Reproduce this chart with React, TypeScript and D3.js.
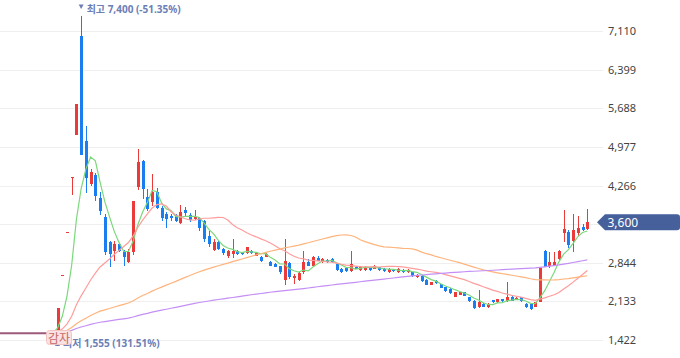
import React from 'react';
import * as d3 from 'd3';

// Daily candles (KRW), oldest to newest
const opens = [
  1580, 2627, 3415, 4415, 5213, 7018, 5102, 4310, 4476, 4047,
  3702, 3229, 3076, 3200, 3076, 2861, 3045, 4255, 4734, 4071,
  3979, 4163, 3869, 3758, 3721, 3739, 3592, 3831, 3739, 3665,
  3684, 3627, 3353, 3089, 3229, 3107, 2984, 3021, 3076, 3045,
  3033, 3076, 2984, 2966, 2966, 2861, 2831, 2789, 2536, 2842,
  2573, 2536, 2676, 2861, 2800, 2941, 2861, 2904, 2922, 2831,
  2739, 2757, 2695, 2781, 2720, 2720, 2769, 2739, 2769, 2739,
  2676, 2720, 2676, 2720, 2676, 2676, 2584, 2615, 2536, 2450,
  2523, 2462, 2400, 2370, 2229, 2265, 2308, 2216, 2155, 2045,
  2094, 2032, 2167, 2124, 2186, 2155, 2229, 2167, 2216, 2094,
  2094, 2045, 2124, 3063, 2800, 2800, 2923, 3407, 3426, 3247,
  3395, 3518, 3475,
];
const highs = [
  2021, 2627, 3415, 4439, 5770, 7400, 5379, 4586, 4500, 4150,
  3758, 3250, 3260, 3220, 3090, 3100, 3984, 4955, 4750, 4213,
  4494, 4237, 3890, 3780, 3758, 3758, 3923, 3880, 3770, 3830,
  3700, 3640, 3445, 3297, 3250, 3120, 3080, 3297, 3090, 3060,
  3150, 3090, 3040, 2980, 3030, 2880, 2850, 2800, 3292, 2870,
  2647, 2680, 3076, 2929, 2970, 2984, 2935, 2920, 2935, 2840,
  2750, 2770, 3076, 2800, 2790, 2790, 2780, 2810, 2780, 2750,
  2750, 2730, 2750, 2730, 2730, 2690, 2650, 2625, 2545, 2500,
  2535, 2470, 2410, 2380, 2320, 2320, 2318, 2225, 2165, 2352,
  2105, 2105, 2175, 2195, 2195, 2492, 2240, 2215, 2225, 2105,
  2100, 2135, 2760, 3093, 3058, 3045, 3090, 3831, 3450, 3752,
  3721, 3568, 3845,
];
const lows = [
  1555, 2627, 3415, 4100, 5213, 4844, 4144, 4273, 3997, 3739,
  3000, 2768, 2890, 3050, 2800, 2840, 3000, 4200, 4034, 3813,
  3900, 3850, 3620, 3500, 3630, 3600, 3570, 3700, 3600, 3640,
  3440, 3242, 3137, 3076, 3090, 3000, 2941, 2947, 3000, 3000,
  3020, 3010, 2970, 2870, 2950, 2790, 2770, 2650, 2450, 2560,
  2462, 2520, 2647, 2790, 2790, 2880, 2850, 2850, 2850, 2700,
  2670, 2690, 2676, 2730, 2710, 2710, 2710, 2730, 2710, 2680,
  2665, 2680, 2665, 2665, 2665, 2600, 2575, 2505, 2440, 2440,
  2465, 2380, 2315, 2280, 2220, 2255, 2240, 2130, 2000, 2020,
  2035, 2020, 2115, 2115, 2135, 2124, 2145, 2160, 2135, 2025,
  1990, 2035, 2124, 2770, 2763, 2790, 2900, 3229, 3132, 3045,
  3353, 3440, 3460,
];
const closes = [
  2021, 2627, 3415, 4439, 5770, 4844, 4420, 4531, 4089, 3800,
  3050, 3015, 3200, 3076, 2966, 3045, 3984, 4715, 4218, 3839,
  4163, 3869, 3684, 3665, 3684, 3627, 3795, 3776, 3647, 3702,
  3500, 3292, 3200, 3229, 3107, 3027, 3063, 3076, 3015, 3015,
  3137, 3027, 3027, 2892, 3015, 2800, 2782, 2676, 2879, 2585,
  2610, 2658, 2861, 2800, 2953, 2892, 2922, 2861, 2861, 2720,
  2689, 2708, 2831, 2739, 2781, 2781, 2720, 2800, 2720, 2695,
  2739, 2695, 2739, 2676, 2720, 2615, 2634, 2523, 2450, 2492,
  2474, 2389, 2326, 2290, 2308, 2308, 2247, 2142, 2020, 2124,
  2045, 2094, 2124, 2186, 2142, 2216, 2155, 2204, 2142, 2032,
  2001, 2124, 2760, 2781, 2873, 2861, 3076, 3469, 3187, 3457,
  3487, 3457, 3600,
];

// Price before re-listing (flat line at the left)
const basePrice = 1555;
const maPeriods = [5, 20, 60, 120];
const maColors = ['#7bd87b', '#ff9c9c', '#ffb47c', '#c48ff5'];
const yTickValues = [1422, 2133, 2844, 3555, 4266, 4977, 5688, 6399, 7110];
const lastPrice = 3600;
const highIndex = 5;
const lowIndex = 0;
const highLabel = '최고 7,400 (-51.35%)';
const lowLabel = '최저 1,555 (131.51%)';
const eventLabel = '감자';

const FONT = "'Noto Sans', 'Noto Sans CJK KR', sans-serif";

export default function App() {
  const W = 680;
  const H = 358;
  const n = closes.length;
  const x = d3.scaleLinear().domain([0, n - 1]).range([57.5, 587.3]);
  const y = d3.scaleLinear().domain([1422, 7110]).range([340.5, 31.5]);
  const fmt = d3.format(',');
  const gridRight = 603;

  const ma = (p: number, i: number) => {
    let s = 0;
    for (let j = i - p + 1; j <= i; j++) s += j < 0 ? basePrice : closes[j];
    return s / p;
  };
  const idx = d3.range(-1, n);
  const maLines = maPeriods.map((p) =>
    d3
      .line<number>()
      .x((i) => x(i))
      .y((i) => y(ma(p, i)))(idx) as string
  );

  const up = '#ea3a3a';
  const down = '#1a7ef0';

  const tagY = y(lastPrice);

  return (
    <svg
      width={W}
      height={H}
      style={{ position: 'absolute', left: 0, top: 0, background: '#fff' }}
      fontFamily={FONT}
    >
      {yTickValues.map((v) => {
        const yy = Math.floor(y(v)) + 0.5;
        // the label under the last-price tag is hidden, as in the source chart
        const hidden = Math.abs(yy - tagY) < 12;
        return (
          <g key={v}>
            <line x1={0} x2={gridRight} y1={yy} y2={yy} stroke="#efefef" strokeWidth={1} />
            {!hidden && (
              <text x={608} y={yy} dy="0.35em" fontSize={11} fill="#444">
                {fmt(v)}
              </text>
            )}
          </g>
        );
      })}

      {/* flat pre-listing price */}
      <line x1={0} x2={x(0)} y1={y(basePrice)} y2={y(basePrice)} stroke="#9c5a7b" strokeWidth={1.8} />

      {/* candles */}
      {closes.map((c, i) => {
        const o = opens[i];
        const cx = Math.round(x(i));
        const color = c >= o ? up : down;
        const top = Math.round(y(Math.max(o, c)));
        const bot = Math.round(y(Math.min(o, c)));
        const hh = Math.max(1, bot - top);
        return (
          <g key={i}>
            <line
              x1={cx + 0.5}
              x2={cx + 0.5}
              y1={Math.round(y(highs[i]))}
              y2={Math.round(y(lows[i]))}
              stroke={color}
              strokeWidth={1}
            />
            <rect x={cx - 1} y={top} width={3} height={hh} fill={color} />
          </g>
        );
      })}

      {/* moving averages */}
      {maLines.map((d, k) => (
        <path key={k} d={d} fill="none" stroke={maColors[k]} strokeWidth={1.2} />
      ))}

      {/* high label */}
      <path
        d={`M${x(highIndex) - 2.5},4.5 L${x(highIndex) + 2.5},4.5 L${x(highIndex)},9 Z`}
        fill="#6b7eb6"
      />
      <text x={x(highIndex) + 5.5} y={12.5} fontSize={10} fontWeight={700} fill="#6b7eb6">
        {highLabel}
      </text>

      {/* low label */}
      <path
        d={`M${x(lowIndex) - 2.5},346 L${x(lowIndex) + 2.5},346 L${x(lowIndex)},341.5 Z`}
        fill="#6b7eb6"
      />
      <text x={x(lowIndex) + 5.5} y={347} fontSize={10} fontWeight={700} fill="#6b7eb6">
        {lowLabel}
      </text>

      {/* event marker */}
      <rect x={46.5} y={330.5} width={25} height={14} rx={3} fill="#fae2e2" stroke="#f1c4c4" strokeWidth={1} />
      <text x={59} y={342.5} textAnchor="middle" fontSize={12} fill="#c46868">
        {eventLabel}
      </text>

      {/* last price tag */}
      <path
        d={`M597,${tagY} L605,${tagY - 8} L677,${tagY - 8} Q680,${tagY - 8} 680,${tagY - 5} L680,${tagY + 5} Q680,${tagY + 8} 677,${tagY + 8} L605,${tagY + 8} Z`}
        fill="#46609c"
      />
      <text x={607.5} y={tagY} dy="0.36em" fontSize={12} fill="#fff">
        {fmt(lastPrice)}
      </text>
    </svg>
  );
}
